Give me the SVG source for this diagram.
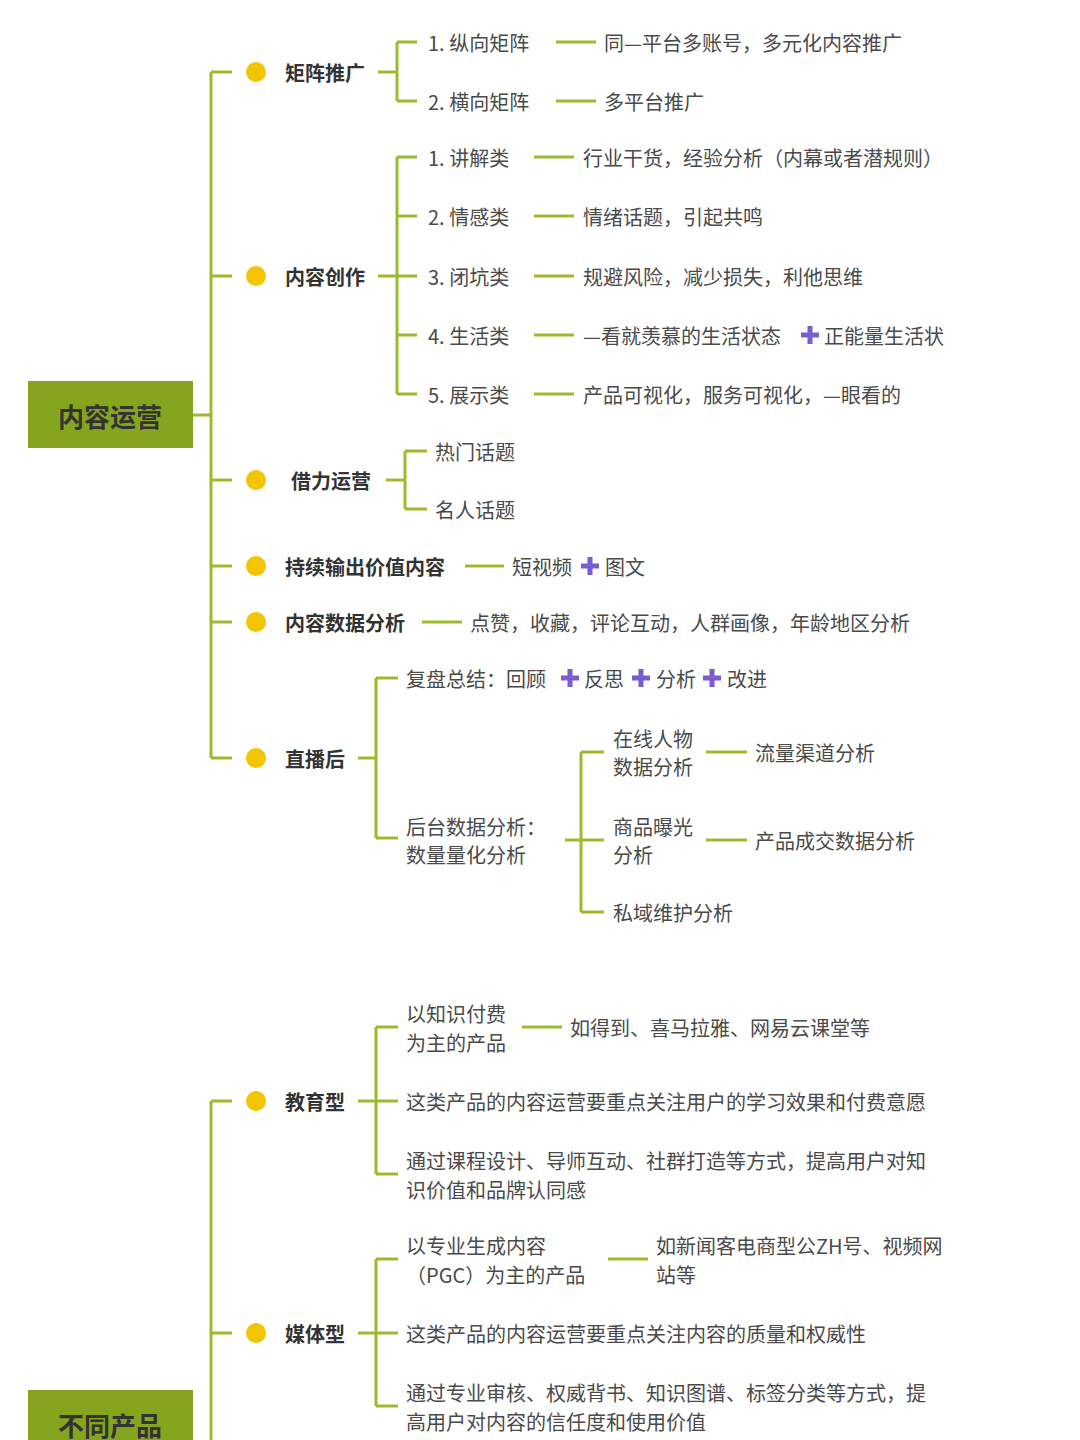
<svg xmlns="http://www.w3.org/2000/svg" width="1080" height="1440" viewBox="0 0 1080 1440">
<style>
text{font-family:"Noto Sans CJK SC","Liberation Sans",sans-serif;font-size:20px;fill:#4a4a4a;dominant-baseline:central}
.b{font-weight:bold;fill:#333}
.r{font-size:26px;font-weight:bold;fill:#333}
.l{stroke:#9cbb2c;stroke-width:3;fill:none}
.d{fill:#f2c500}
.p{fill:#7b5bd0}
</style>
<defs><path id="pl" d="M-2.5,-9h5v6.5h6.5v5h-6.5v6.5h-5v-6.5h-6.5v-5h6.5z"/></defs>
<rect width="1080" height="1440" fill="#fff"/>
<g id="connectors" class="l">
<path d="M193,415H211M211,72V758M211,72H232M211,276H232M211,480H232M211,566H232M211,622H232M211,758H232"/>
<path d="M378,72H397M397,42V101M397,42H417M397,101H417M556,42H596M556,101H596"/>
<path d="M378,276H397M397,157V394M397,157H417M397,216H417M397,276H417M397,335H417M397,394H417M534,157H574M534,216H574M534,276H574M534,335H574M534,394H574"/>
<path d="M386,480H405M405,451V509M405,451H427M405,509H427"/>
<path d="M465,566H504M422,622H462"/>
<path d="M358,758H376M376,678V838M376,678H398M376,838H398M565,840H581M581,752V912M581,752H604M581,840H604M581,912H604M706,752H747M706,840H747"/>
<path d="M211,1101V1440M211,1101H232M211,1333H232"/>
<path d="M358,1101H376M376,1027V1174M376,1027H398M376,1101H398M376,1174H398M522,1027H562"/>
<path d="M358,1333H376M376,1259V1406M376,1259H398M376,1333H398M376,1406H398M608,1259H648"/>
</g>
<g id="root1"><rect x="28" y="381" width="165" height="67" fill="#86a51e"/><text class="r" x="110" y="415" text-anchor="middle">内容运营</text></g>
<g id="root2"><rect x="28" y="1390" width="165" height="60" fill="#86a51e"/><text class="r" x="110" y="1424" text-anchor="middle">不同产品</text></g>
<g id="n1"><circle class="d" cx="256" cy="72" r="10"/><text class="b" x="285" y="72">矩阵推广</text>
<text x="428" y="42">1.  纵向矩阵</text><text x="604" y="42">同—平台多账号，多元化内容推广</text>
<text x="428" y="101">2.  横向矩阵</text><text x="604" y="101">多平台推广</text></g>
<g id="n2"><circle class="d" cx="256" cy="276" r="10"/><text class="b" x="285" y="276">内容创作</text>
<text x="428" y="157">1.  讲解类</text><text x="583" y="157">行业干货，经验分析（内幕或者潜规则）</text>
<text x="428" y="216">2.  情感类</text><text x="583" y="216">情绪话题，引起共鸣</text>
<text x="428" y="276">3.  闭坑类</text><text x="583" y="276">规避风险，减少损失，利他思维</text>
<text x="428" y="335">4.  生活类</text><text x="583" y="335">—看就羡慕的生活状态</text><use href="#pl" class="p" x="810" y="335"/><text x="824" y="335">正能量生活状</text>
<text x="428" y="394">5.  展示类</text><text x="583" y="394">产品可视化，服务可视化，—眼看的</text></g>
<g id="n3"><circle class="d" cx="256" cy="480" r="10"/><text class="b" x="291" y="480">借力运营</text>
<text x="435" y="451">热门话题</text><text x="435" y="509">名人话题</text></g>
<g id="n4"><circle class="d" cx="256" cy="566" r="10"/><text class="b" x="285" y="566">持续输出价值内容</text>
<text x="512" y="566">短视频</text><use href="#pl" class="p" x="590" y="566"/><text x="605" y="566">图文</text></g>
<g id="n5"><circle class="d" cx="256" cy="622" r="10"/><text class="b" x="285" y="622">内容数据分析</text>
<text x="470" y="622">点赞，收藏，评论互动，人群画像，年龄地区分析</text></g>
<g id="n6"><circle class="d" cx="256" cy="758" r="10"/><text class="b" x="285" y="758">直播后</text>
<text x="406" y="678">复盘总结：回顾</text><use href="#pl" class="p" x="570" y="678"/><text x="584" y="678">反思</text><use href="#pl" class="p" x="641" y="678"/><text x="656" y="678">分析</text><use href="#pl" class="p" x="712" y="678"/><text x="727" y="678">改进</text>
<text x="406" y="826">后台数据分析：</text><text x="406" y="854">数量量化分析</text>
<text x="613" y="738">在线人物</text><text x="613" y="766">数据分析</text><text x="755" y="752">流量渠道分析</text>
<text x="613" y="826">商品曝光</text><text x="613" y="854">分析</text><text x="755" y="840">产品成交数据分析</text>
<text x="613" y="912">私域维护分析</text></g>
<g id="n7"><circle class="d" cx="256" cy="1101" r="10"/><text class="b" x="285" y="1101">教育型</text>
<text x="406" y="1013">以知识付费</text><text x="406" y="1042">为主的产品</text><text x="570" y="1027">如得到、喜马拉雅、网易云课堂等</text>
<text x="406" y="1101">这类产品的内容运营要重点关注用户的学习效果和付费意愿</text>
<text x="406" y="1160">通过课程设计、导师互动、社群打造等方式，提高用户对知</text><text x="406" y="1189">识价值和品牌认同感</text></g>
<g id="n8"><circle class="d" cx="256" cy="1333" r="10"/><text class="b" x="285" y="1333">媒体型</text>
<text x="406" y="1245">以专业生成内容</text><text x="406" y="1274">（PGC）为主的产品</text>
<text x="656" y="1245">如新闻客电商型公ZH号、视频网</text><text x="656" y="1274">站等</text>
<text x="406" y="1333">这类产品的内容运营要重点关注内容的质量和权威性</text>
<text x="406" y="1392">通过专业审核、权威背书、知识图谱、标签分类等方式，提</text><text x="406" y="1421">高用户对内容的信任度和使用价值</text></g>
</svg>
